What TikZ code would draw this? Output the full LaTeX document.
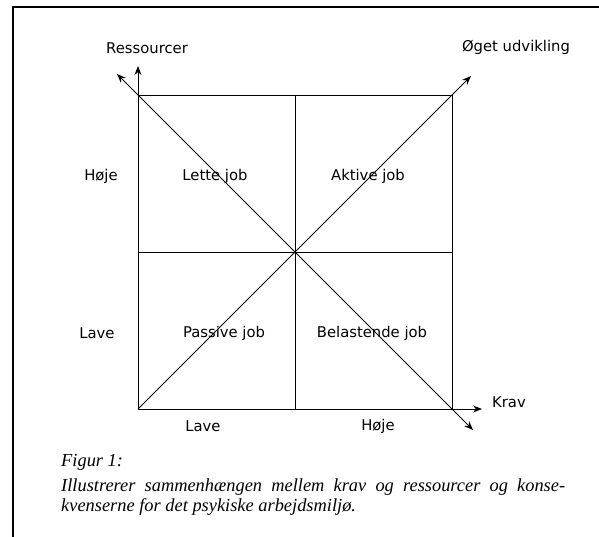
\documentclass[tikz,border=0pt]{standalone}
\usepackage{fontspec}
\setmainfont{DejaVu Sans}
\newfontfamily\capfont{Liberation Serif}
\usetikzlibrary{arrows.meta}
\begin{document}
\begin{tikzpicture}[x=1pt,y=-1pt,
  grid/.style={line width=0.9pt},
  axis/.style={line width=0.9pt,-{Stealth[length=9pt,width=7pt]}},
  lbl/.style={font=\fontsize{14.8}{17}\selectfont,inner sep=0pt},
  captext/.style={font=\capfont\itshape\fontsize{18.4}{20}\selectfont,inner sep=0pt}]
\useasboundingbox (0,0) rectangle (599,537);
% frame
\draw[line width=1.6pt] (13,537) -- (13,7) -- (599,7);
% corners and arrow ends
\coordinate (bl) at (138,409);
\coordinate (tl) at (138,95);
\coordinate (tr) at (452,95);
\coordinate (br) at (452,409);
\coordinate (tm) at (295,95);
\coordinate (bm) at (295,409);
\coordinate (lm) at (138,252);
\coordinate (rm) at (452,252);
\coordinate (yend) at (138,66);
\coordinate (xend) at (482,409);
\coordinate (ne) at (471,76);
\coordinate (nw) at (117,74);
\coordinate (se) at (473,430);
% grid
\draw[grid] (tl) -- (tr) -- (br);
\draw[grid] (tm) -- (bm);
\draw[grid] (lm) -- (rm);
% axes
\draw[axis] (bl) -- (yend);
\draw[axis] (bl) -- (xend);
\draw[axis] (bl) -- (ne);
\draw[line width=0.9pt,{Stealth[length=9pt,width=7pt]}-{Stealth[length=9pt,width=7pt]}] (nw) -- (se);
% labels
\node[lbl] (res) at (147,48) {Ressourcer};
\node[lbl] (oget) at (516,47) {Øget udvikling};
\node[lbl,anchor=west] (krav) at (492,402) {Krav};
\node[lbl] (hojeL) at (101,176) {Høje};
\node[lbl] (laveL) at (97,333) {Lave};
\node[lbl] (lette) at (215,176) {Lette job};
\node[lbl] (aktive) at (368,176) {Aktive job};
\node[lbl] (passive) at (224,333) {Passive job};
\node[lbl] (belast) at (372,333) {Belastende job};
\node[lbl] (laveB) at (203,426) {Lave};
\node[lbl] (hojeB) at (378,426) {Høje};
% caption
\node[captext,anchor=west] (c1) at (61,462) {Figur 1:};
\node[captext,anchor=north west,text width=504pt,align=justify] (c2) at (61,479)
  {Illustrerer sammenhængen mellem krav og ressourcer og konse-\linebreak kvenserne for det psykiske arbejdsmiljø.};
\end{tikzpicture}
\end{document}
